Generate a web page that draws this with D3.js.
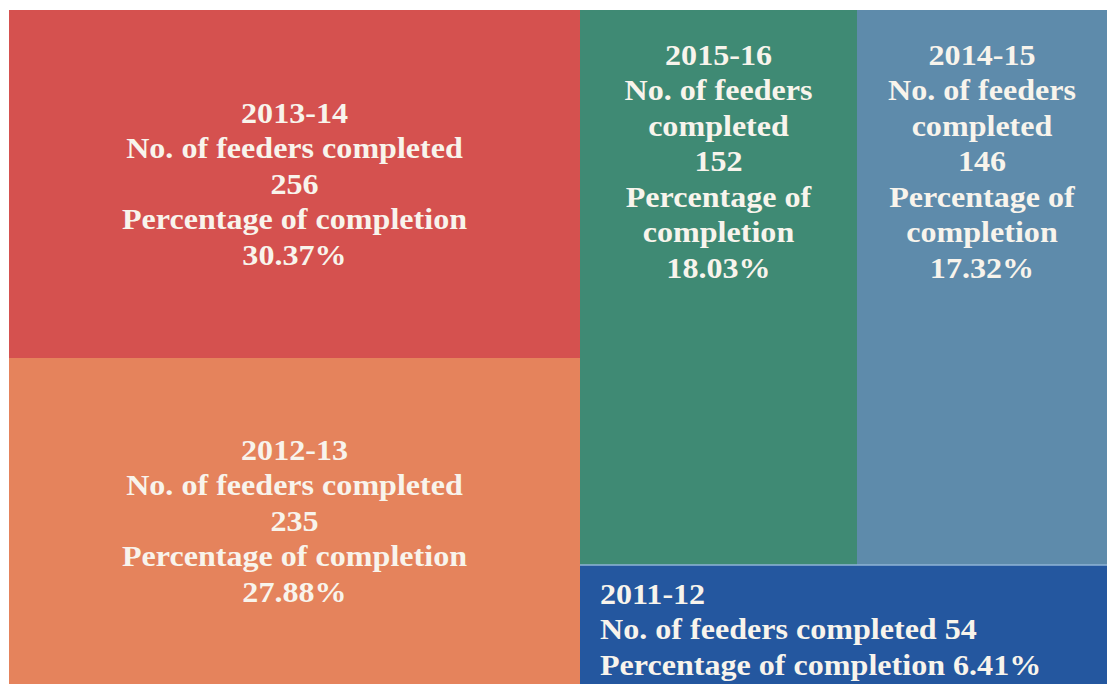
<!DOCTYPE html>
<html>
<head>
<meta charset="UTF-8">
<title>Feeders completed</title>
<script src="https://d3js.org/d3.v7.min.js"></script>
<style>
body { margin: 0; background: #fff; }
svg { display: block; }
.lbl { font-family: "Liberation Serif", "Times New Roman", serif; font-weight: bold; font-size: 30px; fill: #f8f4ec; }
</style>
</head>
<body>
<svg width="1107" height="684"></svg>
<script>
// data
var years    = ["2013-14", "2012-13", "2015-16", "2014-15", "2011-12"];
var feeders  = [256, 235, 152, 146, 54];
var percents = ["30.37%", "27.88%", "18.03%", "17.32%", "6.41%"];

var palette = ["#d5514f", "#e5835c", "#3f8a74", "#5e8bab", "#24579f"];

var W = 1098, H = 674, lh = 35.5, sx = 1.07; // sx: the original type is a bit wide

var svg = d3.select("svg");

var root = d3.hierarchy({children: years.map(function(y, i) {
    return {year: y, value: feeders[i], pct: percents[i], i: i};
  })})
  .sum(function(d) { return d.value || 0; })
  .sort(function(a, b) { return b.value - a.value; });

d3.treemap().tile(d3.treemapSquarify).size([W, H])(root);

var leaves = root.leaves();

// the original picture is not area-true: the left column is narrower and the
// bottom-right cell taller than the values say, so the scales are piecewise
var leftSplit = leaves[0].x1;
var greenSplit = leaves[2].x1;
var redSplit = leaves[0].y1;
var rightSplit = leaves[2].y1;
var x = d3.scaleLinear().domain([0, leftSplit, greenSplit, W]).range([9, 580, 857, 1107]);
var y = d3.scaleLinear().domain([0, redSplit, rightSplit, H]).range([10, 358, 565, 684]);
var color = d3.scaleOrdinal().domain(years).range(palette);

var cell = svg.selectAll("g.cell")
  .data(leaves)
  .enter().append("g")
  .attr("class", "cell");

cell.append("rect")
  .attr("x", function(d) { return x(d.x0); })
  .attr("y", function(d) { return y(d.y0); })
  .attr("width", function(d) { return x(d.x1) - x(d.x0); })
  .attr("height", function(d) { return y(d.y1) - y(d.y0); })
  .attr("fill", function(d) { return color(d.data.year); });

// thin light seam above the bottom cell
svg.append("line")
  .attr("x1", x(leaves[4].x0)).attr("x2", x(leaves[4].x1))
  .attr("y1", y(leaves[4].y0)).attr("y2", y(leaves[4].y0))
  .attr("stroke", "#8fb3d6").attr("stroke-width", 1.5);

// measuring helper for wrapping
var probe = svg.append("text").attr("class", "lbl").attr("visibility", "hidden");
function textW(s) { probe.text(s); return probe.node().getComputedTextLength() * sx; }

function wrap(str, maxW) {
  var words = str.split(" "), out = [], line = "";
  words.forEach(function(w) {
    var t = line ? line + " " + w : w;
    if (line && textW(t) > maxW) { out.push(line); line = w; }
    else line = t;
  });
  if (line) out.push(line);
  return out;
}

cell.each(function(d) {
  var g = d3.select(this);
  var cx0 = x(d.x0), cx1 = x(d.x1), cy0 = y(d.y0), cy1 = y(d.y1);
  var cw = cx1 - cx0, ch = cy1 - cy0;
  var lines, anchor, tx, ty0;

  if (ch < 200) {
    // short wide cell: left aligned, value on the same line as its label
    lines = [d.data.year,
             "No. of feeders completed " + d.data.value,
             "Percentage of completion " + d.data.pct];
    anchor = "start";
    tx = cx0 + 20;
    ty0 = cy0 + 39;
  } else {
    var maxW = cw - 30;
    lines = [d.data.year]
      .concat(wrap("No. of feeders completed", maxW))
      .concat([String(d.data.value)])
      .concat(wrap("Percentage of completion", maxW))
      .concat([d.data.pct]);
    anchor = "middle";
    tx = (cx0 + cx1) / 2;
    if (cw < 400) {
      ty0 = cy0 + 55;
    } else {
      ty0 = (cy0 + cy1) / 2 - (lines.length - 1) * lh / 2 + 10;
    }
  }

  g.append("text")
    .attr("class", "lbl")
    .attr("text-anchor", anchor)
    .attr("transform", "translate(" + tx + ",0) scale(" + sx + ",1)")
    .selectAll("tspan")
    .data(lines)
    .enter().append("tspan")
    .attr("x", 0)
    .attr("y", function(l, k) { return ty0 + k * lh; })
    .text(function(l) { return l; });
});

probe.remove();
</script>
</body>
</html>
